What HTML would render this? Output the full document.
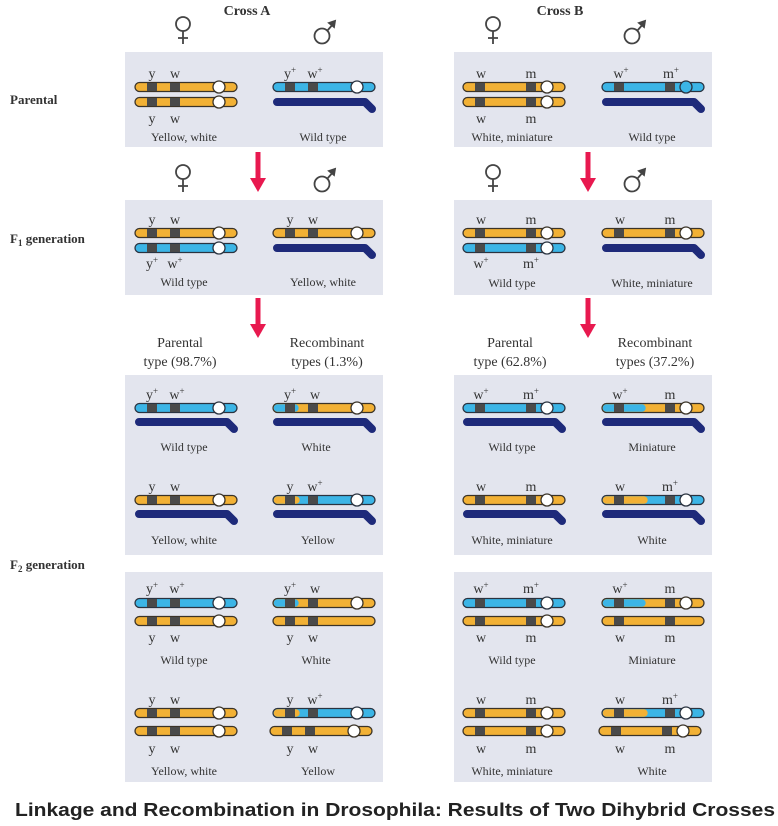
<!DOCTYPE html>
<html><head><meta charset="utf-8"><style>
html,body{margin:0;padding:0;background:#fff}
svg{display:block}
.s{font-family:"Liberation Serif",serif;fill:#333}
.g{font-size:14px}
.c{font-size:12px}
.h{font-size:14px}
</style></head><body>
<svg width="778" height="826" viewBox="0 0 778 826" xmlns="http://www.w3.org/2000/svg">
<defs>
<g id="oA"><rect x="0" y="-4.5" width="102" height="9" rx="4.5" fill="#f2b135" stroke="#3a3328" stroke-width="1.3"/><rect x="12" y="-4" width="10" height="8" fill="#4a4a4a"/><rect x="35" y="-4" width="10" height="8" fill="#4a4a4a"/><circle cx="84" cy="0" r="6" fill="#fff" stroke="#3a3328" stroke-width="1.3"/></g>
<g id="oAn"><rect x="0" y="-4.5" width="102" height="9" rx="4.5" fill="#f2b135" stroke="#3a3328" stroke-width="1.3"/><rect x="12" y="-4" width="10" height="8" fill="#4a4a4a"/><rect x="35" y="-4" width="10" height="8" fill="#4a4a4a"/></g>
<g id="bA"><rect x="0" y="-4.5" width="102" height="9" rx="4.5" fill="#3cb5e6" stroke="#2a3340" stroke-width="1.3"/><rect x="12" y="-4" width="10" height="8" fill="#4a4a4a"/><rect x="35" y="-4" width="10" height="8" fill="#4a4a4a"/><circle cx="84" cy="0" r="6" fill="#fff" stroke="#2a3340" stroke-width="1.3"/></g>
<g id="oB"><rect x="0" y="-4.5" width="102" height="9" rx="4.5" fill="#f2b135" stroke="#3a3328" stroke-width="1.3"/><rect x="12" y="-4" width="10" height="8" fill="#4a4a4a"/><rect x="63" y="-4" width="10" height="8" fill="#4a4a4a"/><circle cx="84" cy="0" r="6" fill="#fff" stroke="#3a3328" stroke-width="1.3"/></g>
<g id="oBn"><rect x="0" y="-4.5" width="102" height="9" rx="4.5" fill="#f2b135" stroke="#3a3328" stroke-width="1.3"/><rect x="12" y="-4" width="10" height="8" fill="#4a4a4a"/><rect x="63" y="-4" width="10" height="8" fill="#4a4a4a"/></g>
<g id="bB"><rect x="0" y="-4.5" width="102" height="9" rx="4.5" fill="#3cb5e6" stroke="#2a3340" stroke-width="1.3"/><rect x="12" y="-4" width="10" height="8" fill="#4a4a4a"/><rect x="63" y="-4" width="10" height="8" fill="#4a4a4a"/><circle cx="84" cy="0" r="6" fill="#fff" stroke="#2a3340" stroke-width="1.3"/></g>
<g id="bBf"><rect x="0" y="-4.5" width="102" height="9" rx="4.5" fill="#3cb5e6" stroke="#2a3340" stroke-width="1.3"/><rect x="12" y="-4" width="10" height="8" fill="#4a4a4a"/><rect x="63" y="-4" width="10" height="8" fill="#4a4a4a"/><circle cx="84" cy="0" r="6" fill="#3cb5e6" stroke="#2a3340" stroke-width="1.3"/></g>
<g id="rA1"><rect x="0" y="-4.5" width="102" height="9" rx="4.5" fill="#f2b135" stroke="#3a3328" stroke-width="1.3"/><rect x="0.7" y="-3.8" width="25" height="7.6" rx="3.8" fill="#3cb5e6"/><rect x="12" y="-4" width="10" height="8" fill="#4a4a4a"/><rect x="35" y="-4" width="10" height="8" fill="#4a4a4a"/><circle cx="84" cy="0" r="6" fill="#fff" stroke="#3a3328" stroke-width="1.3"/></g>
<g id="rA2"><rect x="0" y="-4.5" width="102" height="9" rx="4.5" fill="#3cb5e6" stroke="#2a3340" stroke-width="1.3"/><rect x="0.7" y="-3.8" width="26" height="7.6" rx="3.8" fill="#f2b135"/><rect x="12" y="-4" width="10" height="8" fill="#4a4a4a"/><rect x="35" y="-4" width="10" height="8" fill="#4a4a4a"/><circle cx="84" cy="0" r="6" fill="#fff" stroke="#2a3340" stroke-width="1.3"/></g>
<g id="rB1"><rect x="0" y="-4.5" width="102" height="9" rx="4.5" fill="#f2b135" stroke="#3a3328" stroke-width="1.3"/><rect x="0.7" y="-3.8" width="43" height="7.6" rx="3.8" fill="#3cb5e6"/><rect x="12" y="-4" width="10" height="8" fill="#4a4a4a"/><rect x="63" y="-4" width="10" height="8" fill="#4a4a4a"/><circle cx="84" cy="0" r="6" fill="#fff" stroke="#3a3328" stroke-width="1.3"/></g>
<g id="rB2"><rect x="0" y="-4.5" width="102" height="9" rx="4.5" fill="#3cb5e6" stroke="#2a3340" stroke-width="1.3"/><rect x="0.7" y="-3.8" width="45" height="7.6" rx="3.8" fill="#f2b135"/><rect x="12" y="-4" width="10" height="8" fill="#4a4a4a"/><rect x="63" y="-4" width="10" height="8" fill="#4a4a4a"/><circle cx="84" cy="0" r="6" fill="#fff" stroke="#2a3340" stroke-width="1.3"/></g>
<g id="Y"><path d="M4 0 H92 L99 7" fill="none" stroke="#1e2a7a" stroke-width="8" stroke-linecap="round" stroke-linejoin="round"/></g>
<g id="arr"><rect x="-2.5" y="0" width="5" height="28" fill="#e8194f"/><path d="M-8 26 L8 26 L0 40 Z" fill="#e8194f"/></g>
<g id="fem" fill="none" stroke="#444" stroke-width="1.8"><circle cx="0" cy="0" r="7"/><path d="M0 7 V20 M-5 14 H5"/></g>
<g id="mal" fill="none" stroke="#444" stroke-width="1.8"><circle cx="0" cy="0" r="7.5"/><path d="M5 -5 L12 -13"/><path d="M7 -13 L13 -15 L12 -9 Z" fill="#444"/></g>
</defs>

<text x="247" y="15" class="s" font-size="14" font-weight="bold" text-anchor="middle" fill="#222">Cross A</text>
<text x="560" y="15" class="s" font-size="14" font-weight="bold" text-anchor="middle" fill="#222">Cross B</text>
<use href="#fem" x="183" y="24"/><use href="#mal" x="322" y="36"/>
<use href="#fem" x="493" y="24"/><use href="#mal" x="632" y="36"/>
<use href="#fem" x="183" y="172"/><use href="#mal" x="322" y="184"/>
<use href="#fem" x="493" y="172"/><use href="#mal" x="632" y="184"/>

<g class="s" font-weight="bold" font-size="13" fill="#222">
<text x="10" y="104">Parental</text>
<text x="10" y="243">F<tspan font-size="9" dy="3">1</tspan><tspan dy="-3"> generation</tspan></text>
<text x="10" y="569">F<tspan font-size="9" dy="3">2</tspan><tspan dy="-3"> generation</tspan></text>
</g>

<g fill="#e3e5ee">
<rect x="125" y="52" width="258" height="95"/>
<rect x="454" y="52" width="258" height="95"/>
<rect x="125" y="200" width="258" height="95"/>
<rect x="454" y="200" width="258" height="95"/>
<rect x="125" y="375" width="258" height="180"/>
<rect x="454" y="375" width="258" height="180"/>
<rect x="125" y="572" width="258" height="210"/>
<rect x="454" y="572" width="258" height="210"/>
</g>

<use href="#arr" x="258" y="152"/><use href="#arr" x="588" y="152"/>
<use href="#arr" x="258" y="298"/><use href="#arr" x="588" y="298"/>

<use href="#oA" x="135" y="87"/><use href="#oA" x="135" y="102"/>
<use href="#bA" x="273" y="87"/><use href="#Y" x="273" y="102"/>
<g class="s g">
<text x="152" y="78" text-anchor="middle">y</text><text x="175" y="78" text-anchor="middle">w</text>
<text x="152" y="123" text-anchor="middle">y</text><text x="175" y="123" text-anchor="middle">w</text>
<text x="290" y="78" text-anchor="middle">y<tspan font-size="9" dy="-5">+</tspan></text><text x="315" y="78" text-anchor="middle">w<tspan font-size="9" dy="-5">+</tspan></text>
</g>
<g class="s c" text-anchor="middle"><text x="184" y="141">Yellow, white</text><text x="323" y="141">Wild type</text></g>

<use href="#oB" x="463" y="87"/><use href="#oB" x="463" y="102"/>
<use href="#bBf" x="602" y="87"/><use href="#Y" x="602" y="102"/>
<g class="s g" text-anchor="middle">
<text x="481" y="78">w</text><text x="531" y="78">m</text>
<text x="481" y="123">w</text><text x="531" y="123">m</text>
<text x="621" y="78">w<tspan font-size="9" dy="-5">+</tspan></text><text x="671" y="78">m<tspan font-size="9" dy="-5">+</tspan></text>
</g>
<g class="s c" text-anchor="middle"><text x="512" y="141">White, miniature</text><text x="652" y="141">Wild type</text></g>

<use href="#oA" x="135" y="233"/><use href="#bA" x="135" y="248"/>
<use href="#oA" x="273" y="233"/><use href="#Y" x="273" y="248"/>
<g class="s g" text-anchor="middle">
<text x="152" y="224">y</text><text x="175" y="224">w</text>
<text x="152" y="268">y<tspan font-size="9" dy="-5">+</tspan></text><text x="175" y="268">w<tspan font-size="9" dy="-5">+</tspan></text>
<text x="290" y="224">y</text><text x="313" y="224">w</text>
</g>
<g class="s c" text-anchor="middle"><text x="184" y="286">Wild type</text><text x="323" y="286">Yellow, white</text></g>

<use href="#oB" x="463" y="233"/><use href="#bB" x="463" y="248"/>
<use href="#oB" x="602" y="233"/><use href="#Y" x="602" y="248"/>
<g class="s g" text-anchor="middle">
<text x="481" y="224">w</text><text x="531" y="224">m</text>
<text x="481" y="268">w<tspan font-size="9" dy="-5">+</tspan></text><text x="531" y="268">m<tspan font-size="9" dy="-5">+</tspan></text>
<text x="620" y="224">w</text><text x="670" y="224">m</text>
</g>
<g class="s c" text-anchor="middle"><text x="512" y="287">Wild type</text><text x="652" y="287">White, miniature</text></g>

<g class="s h" text-anchor="middle">
<text x="180" y="347">Parental</text><text x="180" y="366">type (98.7%)</text>
<text x="327" y="347">Recombinant</text><text x="327" y="366">types (1.3%)</text>
<text x="510" y="347">Parental</text><text x="510" y="366">type (62.8%)</text>
<text x="655" y="347">Recombinant</text><text x="655" y="366">types (37.2%)</text>
</g>

<use href="#bA" x="135" y="408"/><use href="#Y" x="135" y="422"/>
<use href="#rA1" x="273" y="408"/><use href="#Y" x="273" y="422"/>
<use href="#oA" x="135" y="500"/><use href="#Y" x="135" y="514"/>
<use href="#rA2" x="273" y="500"/><use href="#Y" x="273" y="514"/>
<g class="s g" text-anchor="middle">
<text x="152" y="399">y<tspan font-size="9" dy="-5">+</tspan></text><text x="177" y="399">w<tspan font-size="9" dy="-5">+</tspan></text>
<text x="290" y="399">y<tspan font-size="9" dy="-5">+</tspan></text><text x="315" y="399">w</text>
<text x="152" y="491">y</text><text x="175" y="491">w</text>
<text x="290" y="491">y</text><text x="315" y="491">w<tspan font-size="9" dy="-5">+</tspan></text>
</g>
<g class="s c" text-anchor="middle"><text x="184" y="451">Wild type</text><text x="316" y="451">White</text>
<text x="184" y="544">Yellow, white</text><text x="318" y="544">Yellow</text></g>

<use href="#bB" x="463" y="408"/><use href="#Y" x="463" y="422"/>
<use href="#rB1" x="602" y="408"/><use href="#Y" x="602" y="422"/>
<use href="#oB" x="463" y="500"/><use href="#Y" x="463" y="514"/>
<use href="#rB2" x="602" y="500"/><use href="#Y" x="602" y="514"/>
<g class="s g" text-anchor="middle">
<text x="481" y="399">w<tspan font-size="9" dy="-5">+</tspan></text><text x="531" y="399">m<tspan font-size="9" dy="-5">+</tspan></text>
<text x="620" y="399">w<tspan font-size="9" dy="-5">+</tspan></text><text x="670" y="399">m</text>
<text x="481" y="491">w</text><text x="531" y="491">m</text>
<text x="620" y="491">w</text><text x="670" y="491">m<tspan font-size="9" dy="-5">+</tspan></text>
</g>
<g class="s c" text-anchor="middle"><text x="512" y="451">Wild type</text><text x="652" y="451">Miniature</text>
<text x="512" y="544">White, miniature</text><text x="652" y="544">White</text></g>

<use href="#bA" x="135" y="603"/><use href="#oA" x="135" y="621"/>
<use href="#rA1" x="273" y="603"/><use href="#oAn" x="273" y="621"/>
<use href="#oA" x="135" y="713"/><use href="#oA" x="135" y="731"/>
<use href="#rA2" x="273" y="713"/><use href="#oA" x="270" y="731"/>
<g class="s g" text-anchor="middle">
<text x="152" y="593">y<tspan font-size="9" dy="-5">+</tspan></text><text x="177" y="593">w<tspan font-size="9" dy="-5">+</tspan></text>
<text x="152" y="642">y</text><text x="175" y="642">w</text>
<text x="290" y="593">y<tspan font-size="9" dy="-5">+</tspan></text><text x="315" y="593">w</text>
<text x="290" y="642">y</text><text x="313" y="642">w</text>
<text x="152" y="704">y</text><text x="175" y="704">w</text>
<text x="152" y="753">y</text><text x="175" y="753">w</text>
<text x="290" y="704">y</text><text x="315" y="704">w<tspan font-size="9" dy="-5">+</tspan></text>
<text x="290" y="753">y</text><text x="313" y="753">w</text>
</g>
<g class="s c" text-anchor="middle"><text x="184" y="664">Wild type</text><text x="316" y="664">White</text>
<text x="184" y="775">Yellow, white</text><text x="318" y="775">Yellow</text></g>

<use href="#bB" x="463" y="603"/><use href="#oB" x="463" y="621"/>
<use href="#rB1" x="602" y="603"/><use href="#oBn" x="602" y="621"/>
<use href="#oB" x="463" y="713"/><use href="#oB" x="463" y="731"/>
<use href="#rB2" x="602" y="713"/><use href="#oB" x="599" y="731"/>
<g class="s g" text-anchor="middle">
<text x="481" y="593">w<tspan font-size="9" dy="-5">+</tspan></text><text x="531" y="593">m<tspan font-size="9" dy="-5">+</tspan></text>
<text x="481" y="642">w</text><text x="531" y="642">m</text>
<text x="620" y="593">w<tspan font-size="9" dy="-5">+</tspan></text><text x="670" y="593">m</text>
<text x="620" y="642">w</text><text x="670" y="642">m</text>
<text x="481" y="704">w</text><text x="531" y="704">m</text>
<text x="481" y="753">w</text><text x="531" y="753">m</text>
<text x="620" y="704">w</text><text x="670" y="704">m<tspan font-size="9" dy="-5">+</tspan></text>
<text x="620" y="753">w</text><text x="670" y="753">m</text>
</g>
<g class="s c" text-anchor="middle"><text x="512" y="664">Wild type</text><text x="652" y="664">Miniature</text>
<text x="512" y="775">White, miniature</text><text x="652" y="775">White</text></g>

<text x="15" y="816" font-family="Liberation Sans, sans-serif" font-size="18" font-weight="bold" fill="#222" textLength="760" lengthAdjust="spacingAndGlyphs">Linkage and Recombination in Drosophila: Results of Two Dihybrid Crosses</text>
</svg>
</body></html>
